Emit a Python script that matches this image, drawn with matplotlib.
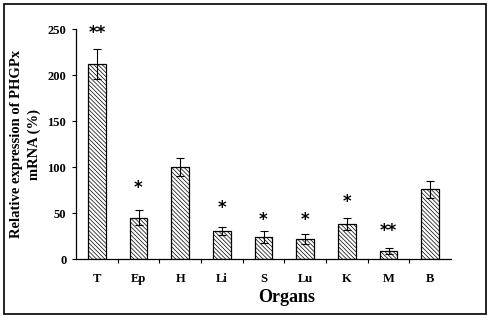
import matplotlib
matplotlib.use("Agg")
import matplotlib.pyplot as plt
from matplotlib.patches import Rectangle

organs = ["T", "Ep", "H", "Li", "S", "Lu", "K", "M", "B"]
values = [212, 45, 100, 31, 24, 22, 38, 9, 76]
errors = [16, 8, 10, 4.5, 6.5, 5.5, 6.5, 3, 9]
marks = ["**", "*", "", "*", "*", "*", "*", "**", ""]
mark_y = [246, 77, 0, 56, 42.5, 42.5, 62, 31, 0]
yticks = [0, 50, 100, 150, 200, 250]

plt.rcParams['font.family'] = ['Liberation Serif', 'DejaVu Serif']
plt.rcParams['hatch.linewidth'] = 0.5

fig = plt.figure(figsize=(4.92, 3.20), dpi=100)
ax = fig.add_axes([76/492, 1 - 259.3/320, (451-76)/492, (259.3-29)/320])

x = list(range(len(organs)))
ax.bar(x, values, width=0.43, color="white", edgecolor="black", hatch="\\" * 8,
       linewidth=0.9, yerr=errors, capsize=3,
       error_kw=dict(elinewidth=0.8, capthick=0.8, ecolor="black"))
for xi, m, my in zip(x, marks, mark_y):
    if m:
        ax.text(xi, my, m, ha="center", va="center", fontsize=12, fontweight="bold",
                family="DejaVu Sans")

ax.set_xlim(-0.5, len(organs) - 0.5)
ax.set_ylim(0, 250)
ax.set_yticks(yticks)
ax.set_yticklabels([str(v) for v in yticks], fontsize=9, fontweight="bold")
ax.set_xticks(x)
ax.set_xticklabels(organs, fontsize=9, fontweight="bold")
ax.tick_params(axis="x", length=0, pad=10)
ax.set_xticks([i + 0.5 for i in x[:-1]], minor=True)
ax.tick_params(axis="x", which="minor", length=3, direction="out", width=0.8)
ax.tick_params(axis="y", length=3, direction="out", width=0.8, pad=4)
for s in ["top", "right"]:
    ax.spines[s].set_visible(False)
for s in ["left", "bottom"]:
    ax.spines[s].set_linewidth(0.9)

fig.text(287/492, 1 - 298/320, "Organs", fontsize=13, fontweight="bold",
         ha="center", va="center")
ax.set_ylabel("Relative expression of PHGPx\nmRNA (%)", fontsize=10.5, fontweight="bold",
              labelpad=5, linespacing=1.4)

fig.patches.append(Rectangle((4/492, 6/320), 482/492, 310/320, transform=fig.transFigure,
                             fill=False, edgecolor="black", linewidth=1.2))

fig.savefig("out.png", dpi=100)
